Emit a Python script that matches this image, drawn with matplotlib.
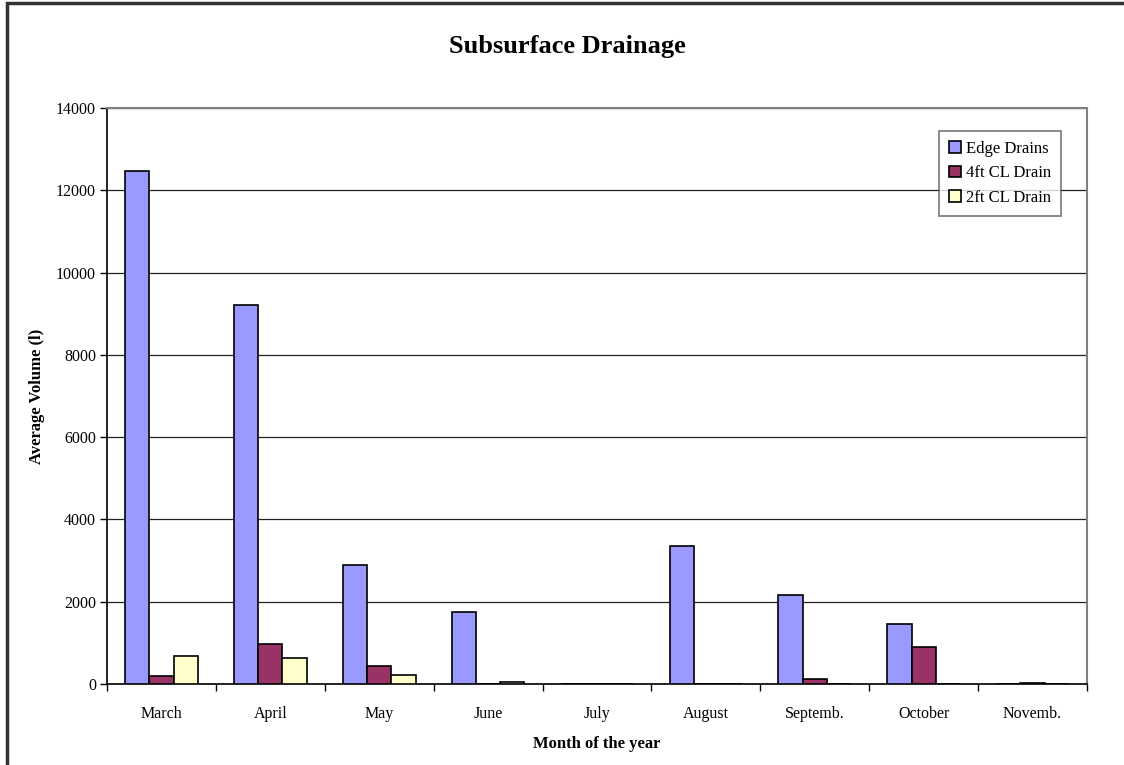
import matplotlib
matplotlib.use('Agg')
import matplotlib.pyplot as plt
import numpy as np
from matplotlib.patches import Rectangle

months = ['March', 'April', 'May', 'June', 'July', 'August', 'Septemb.', 'October', 'Novemb.']
edge_drains = [12470, 9220, 2890, 1745, 0, 3350, 2160, 1460, 0]
cl_4ft = [200, 965, 430, 0, 0, 10, 120, 910, 30]
cl_2ft = [670, 640, 210, 50, 0, 0, 0, 0, 0]
series_names = ['Edge Drains', '4ft CL Drain', '2ft CL Drain']
colors = ['#9999FF', '#993366', '#FFFFCC']

plt.rcParams['font.family'] = ['Liberation Serif', 'DejaVu Serif']

fig = plt.figure(figsize=(11.24, 7.65), dpi=100)
ax = fig.add_axes([107 / 1124, 1 - 684 / 765, 980 / 1124, 576 / 765])

x = np.arange(len(months))
w = 1 / 4.5
for i, (vals, name, c) in enumerate(zip([edge_drains, cl_4ft, cl_2ft], series_names, colors)):
    ax.bar(x + (i - 1) * w, vals, width=w, color=c, edgecolor='black',
           linewidth=1.2, label=name, zorder=3)

ax.set_xlim(-0.5, len(months) - 0.5)
ax.set_ylim(0, 14000)
ax.set_yticks(range(0, 14001, 2000))
ax.set_xticks(x)
ax.set_xticklabels(months)
ax.set_xticks(np.arange(-0.5, len(months), 1), minor=True)
ax.tick_params(axis='x', which='major', length=0, pad=16, labelsize=11.5)
ax.tick_params(axis='x', which='minor', length=5, direction='out', width=1)
ax.tick_params(axis='y', length=5, direction='out', width=1, labelsize=11.5, pad=3)
ax.yaxis.grid(True, color='#222222', linewidth=0.9, zorder=0)

ax.spines['left'].set_color('black')
ax.spines['bottom'].set_color('black')
ax.spines['left'].set_linewidth(1.2)
ax.spines['bottom'].set_linewidth(1.2)
ax.spines['top'].set_color('#808080')
ax.spines['right'].set_color('#808080')
ax.spines['top'].set_linewidth(1.5)
ax.spines['right'].set_linewidth(1.5)

ax.set_xlabel('Month of the year', fontsize=12, fontweight='bold', labelpad=10)
ax.set_ylabel('Average Volume (l)', fontsize=12, fontweight='bold', labelpad=8)
fig.text(0.505, 1 - 46 / 765, 'Subsurface Drainage', fontsize=19, fontweight='bold',
         ha='center', va='center')

leg = ax.legend(loc='upper right', bbox_to_anchor=(1061 / 1124, 1 - 131 / 765),
                bbox_transform=fig.transFigure, fontsize=12, frameon=True,
                fancybox=False, handlelength=0.7, handleheight=0.7,
                handletextpad=0.3, labelspacing=0.5, borderpad=0.6, borderaxespad=0)
leg.get_frame().set_edgecolor('#555555')
leg.get_frame().set_linewidth(1.2)

fig.patches.append(Rectangle((7 / 1124, -0.02), 1.1, 1 - 3 / 765 + 0.02,
                             transform=fig.transFigure, fill=False,
                             edgecolor='#333333', linewidth=2.5))

fig.savefig('out.png', dpi=100)
